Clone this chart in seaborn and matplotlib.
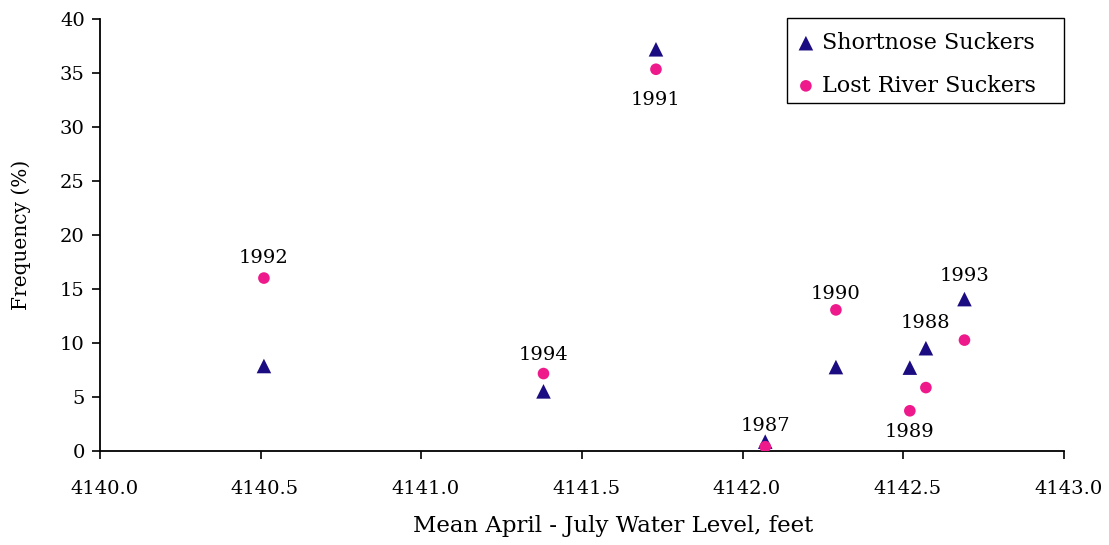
import matplotlib
matplotlib.use("Agg")
import matplotlib.pyplot as plt
import matplotlib.transforms as mtransforms
from matplotlib.patches import Rectangle
import seaborn as sns
import pandas as pd

# Mean April-July water level (feet) for each year
years = ["1987", "1988", "1989", "1990", "1991", "1992", "1993", "1994"]
water_level = [4142.07, 4142.57, 4142.52, 4142.29, 4141.73, 4140.51, 4142.69, 4141.38]
# Frequency (%) by species
shortnose = [0.84, 9.5, 7.7, 7.75, 37.2, 7.85, 14.05, 5.5]
lost_river = [0.37, 5.85, 3.7, 13.05, 35.35, 16.0, 10.25, 7.15]

species = ["Shortnose Suckers", "Lost River Suckers"]

df = pd.concat([
    pd.DataFrame({"level": water_level, "freq": shortnose, "year": years, "species": species[0]}),
    pd.DataFrame({"level": water_level, "freq": lost_river, "year": years, "species": species[1]}),
], ignore_index=True)

sns.set_theme(style="white")
plt.rcParams["font.family"] = ["DejaVu Serif", "Liberation Serif"]
plt.rcParams["text.color"] = "black"

fig = plt.figure(figsize=(11.09, 5.45), dpi=100)
ax = fig.add_axes([0.0902, 0.173, 0.8693, 0.792])

palette = {species[0]: "#1b0c82", species[1]: "#ee1a8c"}
markers = {species[0]: "^", species[1]: "o"}
sizes = {species[0]: 110, species[1]: 70}

for sp in species:
    sub = df[df["species"] == sp]
    sns.scatterplot(data=sub, x="level", y="freq", color=palette[sp], marker=markers[sp],
                    s=sizes[sp], edgecolor="none", linewidth=0, ax=ax, label=sp, zorder=3)

# Year annotations: series each label is attached to, and vertical offset in points
label_anchor = {
    "1987": (shortnose, 4.8),
    "1988": (shortnose, 11.5),
    "1989": (lost_river, -9),
    "1990": (lost_river, 5.3),
    "1991": (lost_river, -16),
    "1992": (lost_river, 8),
    "1993": (shortnose, 10),
    "1994": (lost_river, 7.2),
}
for i, yr in enumerate(years):
    series, off = label_anchor[yr]
    va = "bottom" if off > 0 else "top"
    ax.annotate(yr, (water_level[i], series[i]), xytext=(0, off), textcoords="offset points",
                ha="center", va=va, fontsize=14, color="black")

ax.set_xlim(4140.0, 4143.0)
ax.set_ylim(0, 40)
ax.set_xticks([4140.0, 4140.5, 4141.0, 4141.5, 4142.0, 4142.5, 4143.0])
ax.set_xticklabels([f"{v:.1f}" for v in ax.get_xticks()])
ax.set_yticks(range(0, 41, 5))

for side in ["top", "right"]:
    ax.spines[side].set_visible(False)
for side in ["left", "bottom"]:
    ax.spines[side].set_color("black")
    ax.spines[side].set_linewidth(1.3)

ax.tick_params(axis="both", which="major", direction="out", length=6, width=1.2,
               color="black", labelsize=14, labelcolor="black", left=True, bottom=True)
ax.tick_params(axis="x", pad=15)
ax.tick_params(axis="y", pad=5)

# nudge x tick labels slightly to the right of their ticks
shift = mtransforms.ScaledTranslation(4 / 100, 0, fig.dpi_scale_trans)
for lbl in ax.get_xticklabels():
    lbl.set_transform(lbl.get_transform() + shift)

ax.set_xlabel("Mean April - July Water Level, feet", fontsize=16.5, labelpad=12, color="black")
ax.xaxis.label.set_x(0.532)
ax.set_ylabel("Frequency (%)", fontsize=14.5, labelpad=21, color="black")

# Legend entries without their own frame; a plain box is drawn around them
leg = ax.legend(loc="upper left", bbox_to_anchor=(0.7195, 0.970), frameon=False,
                fontsize=16, handletextpad=0.16, borderpad=0.0,
                labelspacing=0.93, handlelength=1.1, borderaxespad=0)
for t in leg.get_texts():
    t.set_color("black")
ax.add_patch(Rectangle((0.7127, 0.8054), 1.0 - 0.7127, 1.0023 - 0.8054,
                       transform=ax.transAxes, fill=False, edgecolor="black",
                       linewidth=1.0, clip_on=False, zorder=4))

fig.savefig("out.png", dpi=100)
